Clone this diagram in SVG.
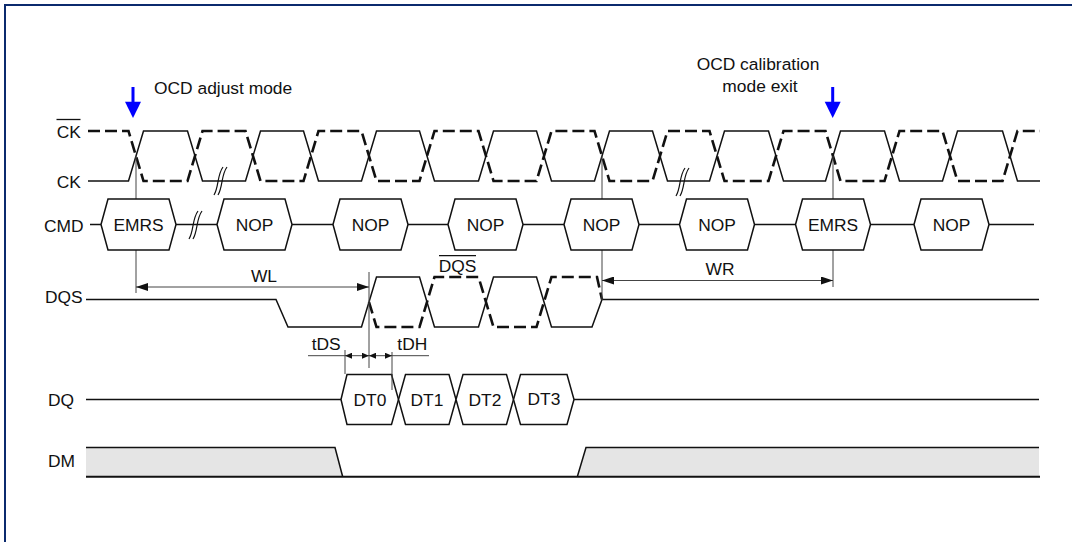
<svg xmlns="http://www.w3.org/2000/svg" width="1072" height="542" viewBox="0 0 1072 542">
<style>
text{font-family:"Liberation Sans",Arial,sans-serif;font-size:17.4px;fill:#111}
.sig{fill:none;stroke:#111;stroke-width:1.5}
.dash{fill:none;stroke:#111;stroke-width:2.6;stroke-dasharray:12 5}
.guide{fill:none;stroke:#444;stroke-width:1}
.box{fill:#fff;stroke:#111;stroke-width:1.5}
.brk{fill:none;stroke:#111;stroke-width:1.2}
.mid{text-anchor:middle}
</style>
<defs>
<marker id="ah" viewBox="0 0 12 8" refX="12" refY="4" markerWidth="12" markerHeight="8" markerUnits="userSpaceOnUse" orient="auto-start-reverse"><path d="M0,0 L12,4 L0,8 z" fill="#111"/></marker>
<marker id="sa" viewBox="0 0 7 6" refX="7" refY="3" markerWidth="7" markerHeight="6" markerUnits="userSpaceOnUse" orient="auto-start-reverse"><path d="M0,0 L7,3 L0,6 z" fill="#111"/></marker>
</defs>
<rect x="5" y="5" width="1200" height="700" fill="#fff" stroke="#0b2a6e" stroke-width="2"/>

<g id="labels">
<text x="56.7" y="138">CK</text>
<line x1="56.5" y1="119.5" x2="80.5" y2="119.5" stroke="#111" stroke-width="1.3"/>
<text x="56.7" y="188">CK</text>
<text x="44" y="232">CMD</text>
<text x="45" y="303">DQS</text>
<text x="48" y="405.7">DQ</text>
<text x="48" y="467">DM</text>
<text x="154" y="93.5">OCD adjust mode</text>
<text class="mid" x="758" y="70">OCD calibration</text>
<text class="mid" x="760" y="92">mode exit</text>
</g>

<g id="markers-blue" fill="#0000ff">
<rect x="131.5" y="87" width="3" height="16"/>
<polygon points="125,101.7 141,101.7 133,118"/>
<rect x="831.2" y="87" width="3" height="16"/>
<polygon points="824.7,101.7 840.7,101.7 832.7,118"/>
</g>

<g id="waveforms">
<path id="ck" class="sig" d="M88,181 H128.5 L143.5,131 H187.5 L202.5,181 H245.5 L260.5,131 H303.5 L318.5,181 H361.5 L376.5,131 H419.5 L434.5,181 H478.5 L493.5,131 H536.5 L551.5,181 H594.5 L609.5,131 H652.5 L667.5,181 H709.5 L724.5,131 H768.5 L783.5,181 H825.5 L840.5,131 H884.5 L899.5,181 H942.5 L957.5,131 H1002.5 L1017.5,181 H1040"/>
<path id="ckb" class="dash" d="M88,131 H128.5 L143.5,181 H187.5 L202.5,131 H245.5 L260.5,181 H303.5 L318.5,131 H361.5 L376.5,181 H419.5 L434.5,131 H478.5 L493.5,181 H536.5 L551.5,131 H594.5 L609.5,181 H652.5 L667.5,131 H709.5 L724.5,181 H768.5 L783.5,131 H825.5 L840.5,181 H884.5 L899.5,131 H942.5 L957.5,181 H1002.5 L1017.5,131 H1040"/>
<line id="cmd" class="sig" x1="90" y1="224.5" x2="1034" y2="224.5"/>
<path id="dqs" class="sig" d="M86,299.5 H276 L288,327 H361.5 L376.5,277 H419.5 L434.5,327 H478.5 L493.5,277 H536.5 L551.5,327 H592 L602,299.5 H1039"/>
<path id="dqsb" class="dash" d="M369,302 L376.5,327 H419.5 L434.5,277 H478.5 L493.5,327 H536.5 L551.5,277 H597 L602,299.5"/>
<path id="dq" class="sig" d="M86,399.5 H341 M574,399.5 H1039"/>
<path id="dm1" d="M86,447.5 H335 L342.7,476.7 H86 z" fill="#e5e5e5"/>
<path id="dm2" d="M577.3,476.7 L586,447.5 H1039 V476.7 z" fill="#e5e5e5"/>
<path class="sig" d="M86,447.5 H335 L342.7,476.7 M577.3,476.7 L586,447.5 H1039"/>
<line x1="86" y1="476.7" x2="1040" y2="476.7" stroke="#111" stroke-width="2"/>
</g>

<g id="connectors">
<line class="guide" x1="136" y1="156" x2="136" y2="293"/>
<line class="guide" x1="602" y1="156" x2="602" y2="300"/>
<line class="guide" x1="833" y1="156" x2="833" y2="287"/>
<line class="guide" x1="369" y1="272" x2="369" y2="368"/>
<line class="guide" x1="345" y1="350" x2="345" y2="374"/>
<line class="guide" x1="392" y1="352" x2="392" y2="390"/>
<line class="guide" x1="136" y1="287" x2="369" y2="287" marker-start="url(#ah)" marker-end="url(#ah)"/>
<line class="guide" x1="602" y1="280.5" x2="833" y2="280.5" marker-start="url(#ah)" marker-end="url(#ah)"/>
<line class="guide" x1="308" y1="355.7" x2="345" y2="355.7"/>
<line class="guide" x1="345" y1="355.7" x2="369" y2="355.7" marker-start="url(#sa)" marker-end="url(#sa)"/>
<line class="guide" x1="369" y1="355.7" x2="392" y2="355.7" marker-start="url(#sa)" marker-end="url(#sa)"/>
<line class="guide" x1="392" y1="355.7" x2="429" y2="355.7"/>
<text class="mid" x="264" y="282">WL</text>
<text class="mid" x="720" y="275">WR</text>
<text x="311.7" y="349.5">tDS</text>
<text x="397.3" y="349.5">tDH</text>
<text class="mid" x="457.5" y="272">DQS</text>
<line x1="439" y1="255.7" x2="476" y2="255.7" stroke="#111" stroke-width="1.3"/>
</g>

<g id="breaks">
<path class="brk" d="M214,195 C219,187 217,175 223,167 M218,195 C223,187 221,175 227,167"/>
<path class="brk" d="M676,196 C681,188 679,176 685,168 M680,196 C685,188 683,176 689,168"/>
<path class="brk" d="M189,239 C194,231 192,219 198,211 M193,239 C198,231 196,219 202,211"/>
</g>

<g id="cmd-boxes">
<g id="n-emrs1"><polygon class="box" points="101,224.5 108,199 169,199 176,224.5 169,250 108,250"/><text class="mid" x="138.5" y="230.5">EMRS</text></g>
<g id="n-nop1"><polygon class="box" points="217,224.5 224,199 285,199 292,224.5 285,250 224,250"/><text class="mid" x="254.5" y="230.5">NOP</text></g>
<g id="n-nop2"><polygon class="box" points="333,224.5 340,199 401,199 408,224.5 401,250 340,250"/><text class="mid" x="370.5" y="230.5">NOP</text></g>
<g id="n-nop3"><polygon class="box" points="448,224.5 455,199 516,199 523,224.5 516,250 455,250"/><text class="mid" x="485.5" y="230.5">NOP</text></g>
<g id="n-nop4"><polygon class="box" points="564,224.5 571,199 632,199 639,224.5 632,250 571,250"/><text class="mid" x="601.5" y="230.5">NOP</text></g>
<g id="n-nop5"><polygon class="box" points="679.5,224.5 686.5,199 747.5,199 754.5,224.5 747.5,250 686.5,250"/><text class="mid" x="717" y="230.5">NOP</text></g>
<g id="n-emrs2"><polygon class="box" points="795.5,224.5 802.5,199 863.5,199 870.5,224.5 863.5,250 802.5,250"/><text class="mid" x="833" y="230.5">EMRS</text></g>
<g id="n-nop6"><polygon class="box" points="914,224.5 921,199 982,199 989,224.5 982,250 921,250"/><text class="mid" x="951.5" y="230.5">NOP</text></g>
</g>

<g id="dq-boxes">
<g id="n-dt0"><polygon class="box" points="341,399.5 347,374.5 391.5,374.5 398.5,399.5 391.5,424.5 347,424.5"/><text class="mid" x="370" y="405.5">DT0</text></g>
<g id="n-dt1"><polygon class="box" points="398.5,399.5 405.5,374.5 449,374.5 456,399.5 449,424.5 405.5,424.5"/><text class="mid" x="427" y="405.5">DT1</text></g>
<g id="n-dt2"><polygon class="box" points="456,399.5 463,374.5 506.5,374.5 513.5,399.5 506.5,424.5 463,424.5"/><text class="mid" x="485" y="405.5">DT2</text></g>
<g id="n-dt3"><polygon class="box" points="513.5,399.5 520.5,374.5 567,374.5 574,399.5 567,424.5 520.5,424.5"/><text class="mid" x="544" y="404.5">DT3</text></g>
</g>
<line class="guide" x1="392" y1="374" x2="392" y2="390"/>
</svg>
